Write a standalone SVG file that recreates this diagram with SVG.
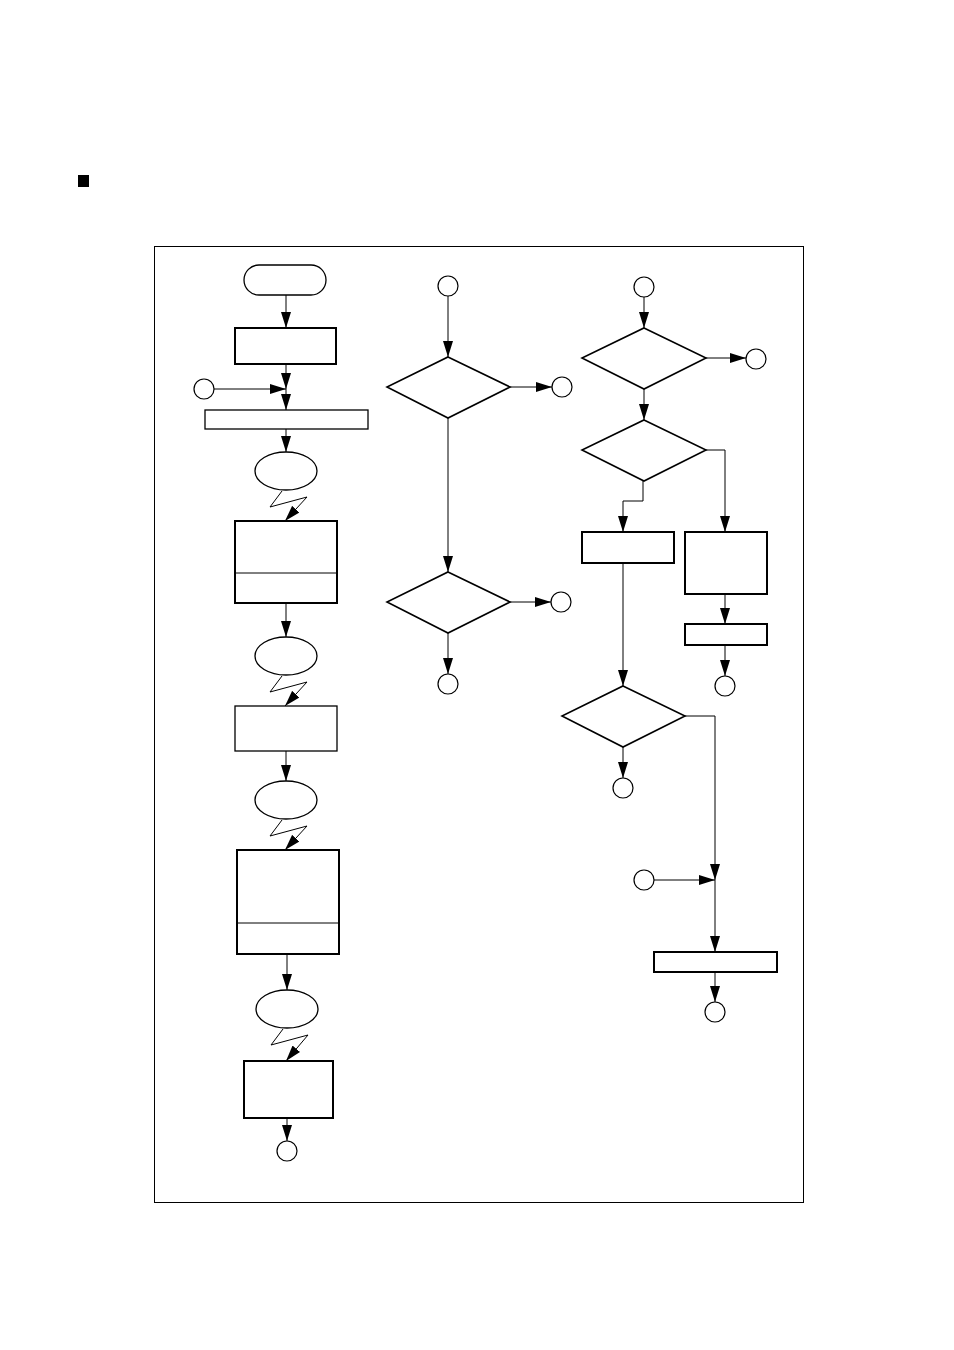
<svg xmlns="http://www.w3.org/2000/svg" width="954" height="1350" viewBox="0 0 954 1350">
<defs>
<style>
.sh{fill:#fff;stroke:#000;stroke-width:2}
.dm{fill:#fff;stroke:#000;stroke-width:1.6}
.th{fill:#fff;stroke:#000;stroke-width:1.3}
.cn{fill:none;stroke:#000;stroke-width:1.2}
.ln{fill:none;stroke:#000;stroke-width:1}
</style>
<marker id="ah" viewBox="0 0 16 10" refX="16" refY="5" markerWidth="16" markerHeight="10" markerUnits="userSpaceOnUse" orient="auto">
<path d="M0,0 L16,5 L0,10 z" fill="#000"/>
</marker>
</defs>
<rect width="954" height="1350" fill="#fff"/>
<rect x="78" y="175" width="11" height="12" fill="#000"/>
<rect x="154.5" y="246.5" width="649" height="956" fill="none" stroke="#000" stroke-width="1"/>

<g id="connectors" class="ln">
<!-- left column -->
<line x1="286" y1="295" x2="286" y2="328" marker-end="url(#ah)"/>
<line x1="286" y1="364" x2="286" y2="389" marker-end="url(#ah)"/>
<line x1="214" y1="389" x2="286" y2="389" marker-end="url(#ah)"/>
<line x1="286" y1="389" x2="286" y2="410" marker-end="url(#ah)"/>
<line x1="286" y1="429" x2="286" y2="452" marker-end="url(#ah)"/>
<polyline points="282,491 270,507 307,497" fill="none"/>
<line x1="307" y1="497" x2="285" y2="521" marker-end="url(#ah)"/>
<line x1="286" y1="603" x2="286" y2="637" marker-end="url(#ah)"/>
<polyline points="282,676 270,692 307,682" fill="none"/>
<line x1="307" y1="682" x2="285" y2="706" marker-end="url(#ah)"/>
<line x1="286" y1="751" x2="286" y2="781" marker-end="url(#ah)"/>
<polyline points="282,820 270,836 307,826" fill="none"/>
<line x1="307" y1="826" x2="285" y2="850" marker-end="url(#ah)"/>
<line x1="287" y1="954" x2="287" y2="990" marker-end="url(#ah)"/>
<polyline points="283,1029 271,1045 308,1035" fill="none"/>
<line x1="308" y1="1035" x2="286" y2="1061" marker-end="url(#ah)"/>
<line x1="287" y1="1118" x2="287" y2="1141" marker-end="url(#ah)"/>
<!-- middle column -->
<line x1="448" y1="296" x2="448" y2="357" marker-end="url(#ah)"/>
<line x1="510" y1="387" x2="552" y2="387" marker-end="url(#ah)"/>
<line x1="448" y1="418" x2="448" y2="572" marker-end="url(#ah)"/>
<line x1="510" y1="602" x2="551" y2="602" marker-end="url(#ah)"/>
<line x1="448" y1="633" x2="448" y2="674" marker-end="url(#ah)"/>
<!-- right column -->
<line x1="644" y1="297" x2="644" y2="328" marker-end="url(#ah)"/>
<line x1="706" y1="358" x2="746" y2="358" marker-end="url(#ah)"/>
<line x1="644" y1="389" x2="644" y2="420" marker-end="url(#ah)"/>
<polyline points="706,450 725,450 725,532" marker-end="url(#ah)"/>
<polyline points="643,481 643,501 623,501 623,532" marker-end="url(#ah)"/>
<line x1="725" y1="594" x2="725" y2="624" marker-end="url(#ah)"/>
<line x1="725" y1="645" x2="725" y2="676" marker-end="url(#ah)"/>
<line x1="623" y1="563" x2="623" y2="686" marker-end="url(#ah)"/>
<line x1="623" y1="747" x2="623" y2="778" marker-end="url(#ah)"/>
<polyline points="685,716 715,716 715,880" marker-end="url(#ah)"/>
<line x1="654" y1="880" x2="715" y2="880" marker-end="url(#ah)"/>
<line x1="715" y1="880" x2="715" y2="952" marker-end="url(#ah)"/>
<line x1="715" y1="972" x2="715" y2="1002" marker-end="url(#ah)"/>
</g>

<g id="start"><rect class="th" x="244" y="265" width="82" height="30" rx="15"/></g>
<g id="box1"><rect class="sh" x="235" y="328" width="101" height="36"/></g>
<g id="conn-in-left"><circle class="cn" cx="204" cy="389" r="10"/></g>
<g id="box2"><rect class="th" x="205" y="410" width="163" height="19"/></g>
<g id="ellipse1"><ellipse class="th" cx="286" cy="471" rx="31" ry="19"/></g>
<g id="box3"><rect class="sh" x="235" y="521" width="102" height="82"/><line class="ln" x1="235" y1="573" x2="338" y2="573"/></g>
<g id="ellipse2"><ellipse class="th" cx="286" cy="656" rx="31" ry="19"/></g>
<g id="box4"><rect class="th" x="235" y="706" width="102" height="45"/></g>
<g id="ellipse3"><ellipse class="th" cx="286" cy="800" rx="31" ry="19"/></g>
<g id="box5"><rect class="sh" x="237" y="850" width="102" height="104"/><line class="ln" x1="237" y1="923" x2="339" y2="923"/></g>
<g id="ellipse4"><ellipse class="th" cx="287" cy="1009" rx="31" ry="19"/></g>
<g id="box6"><rect class="sh" x="244" y="1061" width="89" height="57" stroke="#333"/></g>
<g id="conn-out-left"><circle class="cn" cx="287" cy="1151" r="10"/></g>

<g id="conn-mid-top"><circle class="cn" cx="448" cy="286" r="10"/></g>
<g id="diamond1"><polygon class="dm" points="448,357 510,387 448,418 387,387"/></g>
<g id="conn-mid-r1"><circle class="cn" cx="562" cy="387" r="10"/></g>
<g id="diamond2"><polygon class="dm" points="448,572 510,602 448,633 387,602"/></g>
<g id="conn-mid-r2"><circle class="cn" cx="561" cy="602" r="10"/></g>
<g id="conn-mid-bottom"><circle class="cn" cx="448" cy="684" r="10"/></g>

<g id="conn-right-top"><circle class="cn" cx="644" cy="287" r="10"/></g>
<g id="diamond3"><polygon class="dm" points="644,328 706,358 644,389 582,358"/></g>
<g id="conn-right-r1"><circle class="cn" cx="756" cy="359" r="10"/></g>
<g id="diamond4"><polygon class="dm" points="644,420 706,450 644,481 582,450"/></g>
<g id="boxR2"><rect class="sh" x="582" y="532" width="92" height="31"/></g>
<g id="boxR1"><rect class="sh" x="685" y="532" width="82" height="62"/></g>
<g id="boxR3"><rect class="sh" x="685" y="624" width="82" height="21"/></g>
<g id="conn-right-r2"><circle class="cn" cx="725" cy="686" r="10"/></g>
<g id="diamond5"><polygon class="dm" points="623,686 685,716 623,747 562,716"/></g>
<g id="conn-right-d5"><circle class="cn" cx="623" cy="788" r="10"/></g>
<g id="conn-right-in"><circle class="cn" cx="644" cy="880" r="10"/></g>
<g id="boxR4"><rect class="sh" x="654" y="952" width="123" height="20"/></g>
<g id="conn-right-bottom"><circle class="cn" cx="715" cy="1012" r="10"/></g>
</svg>
